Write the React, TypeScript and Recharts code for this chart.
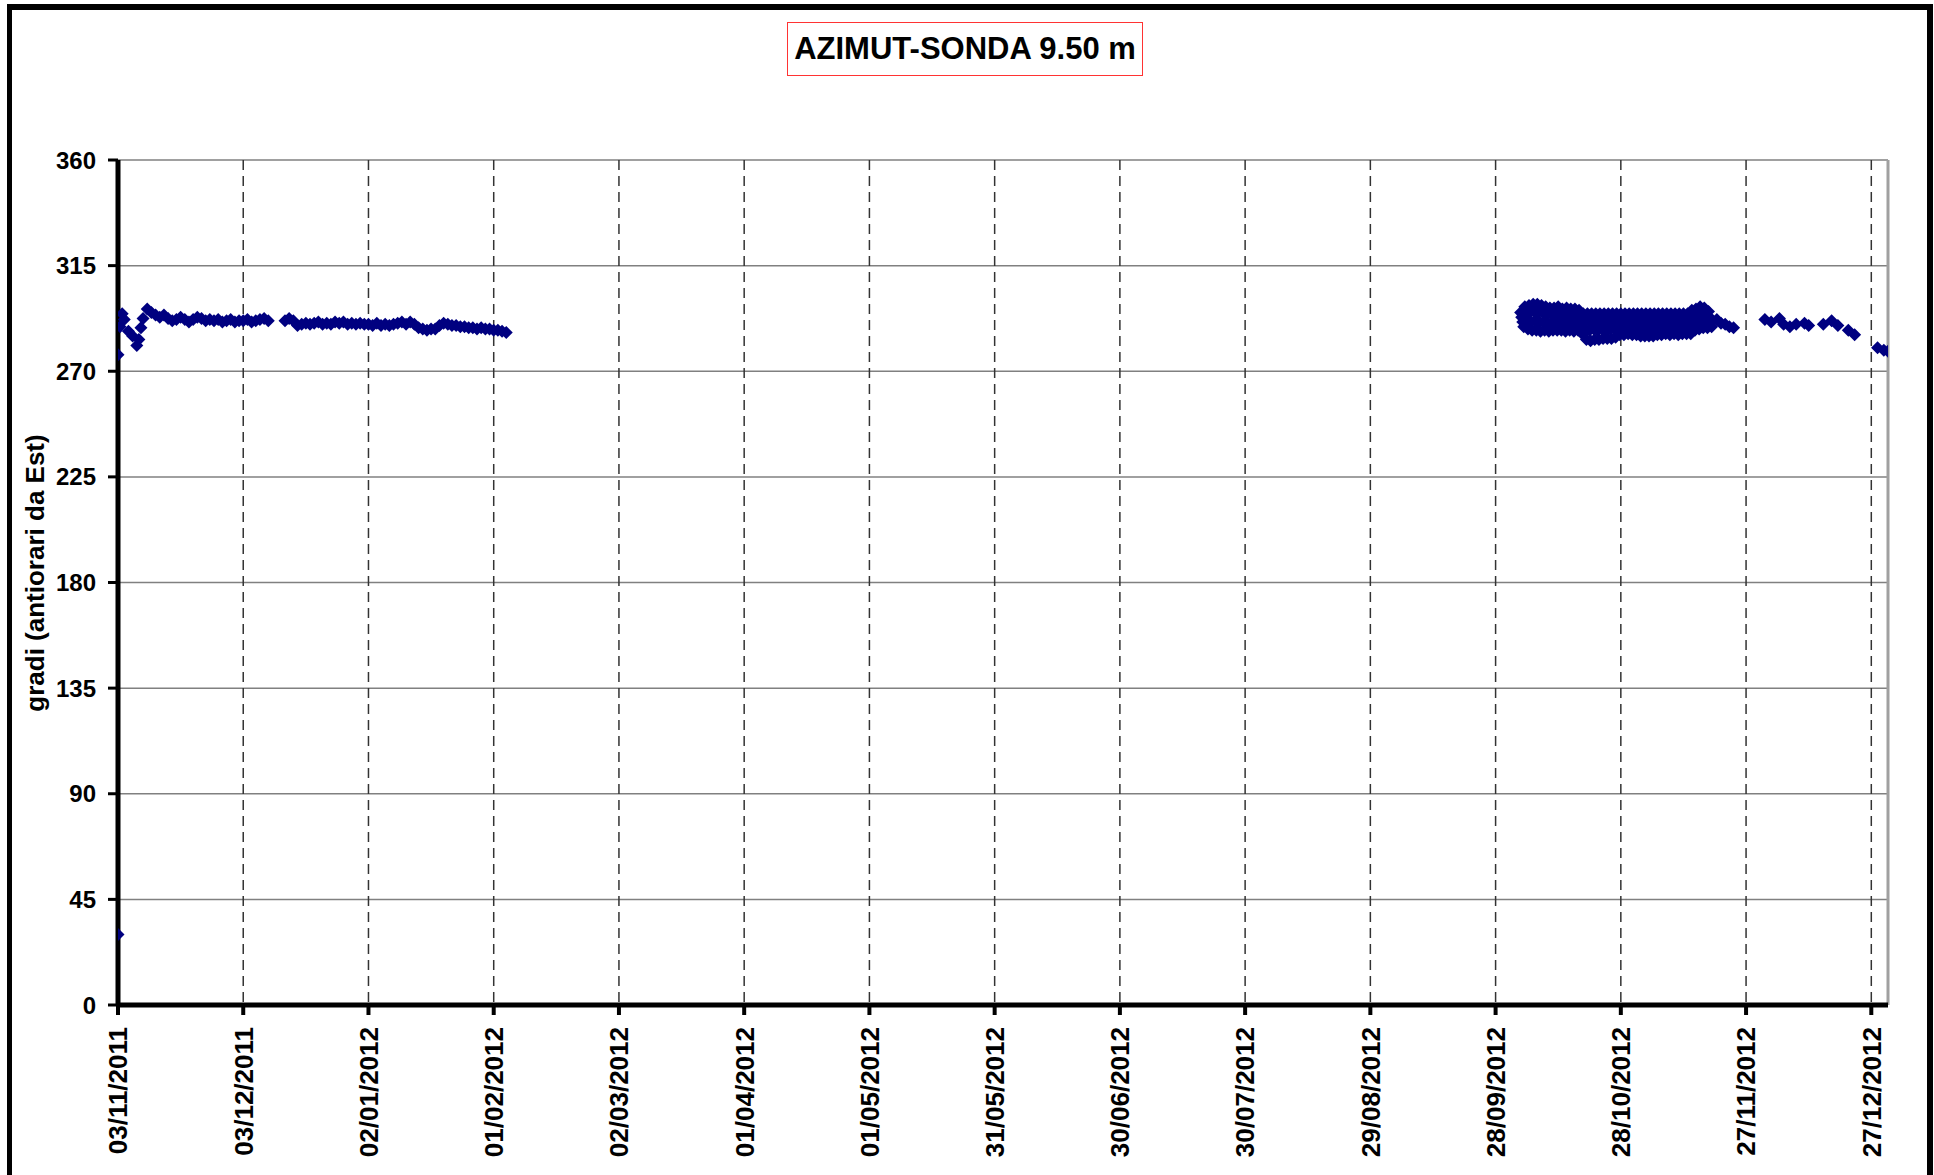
import { ScatterChart, Scatter, XAxis, YAxis, CartesianGrid, ReferenceLine } from 'recharts'

const FONT = '"Liberation Sans", Arial, sans-serif'

// day 0 = 03/11/2011
const tickDays = [0, 30, 60, 90, 120, 150, 180, 210, 240, 270, 300, 330, 360, 390, 420]
const tickLabels = [
  '03/11/2011', '03/12/2011', '02/01/2012', '01/02/2012', '02/03/2012',
  '01/04/2012', '01/05/2012', '31/05/2012', '30/06/2012', '30/07/2012',
  '29/08/2012', '28/09/2012', '28/10/2012', '27/11/2012', '27/12/2012'
]
const yTicks = [0, 45, 90, 135, 180, 225, 270, 315, 360]

// first campaign (Nov 2011 - Feb 2012)
const leftDays = [
  0, 0, 0.5, 1, 1.5, 2.5, 3.5, 4.5, 5, 5.5, 6, 7,
  8, 9, 10, 11, 12, 13, 14, 15, 16, 17, 18, 19, 20, 21, 22, 23, 24, 25, 26, 27, 28, 29, 30, 31, 32, 33, 34, 35, 36,
  40, 41, 42, 43, 44, 45, 46, 47, 48, 49, 50, 51, 52, 53, 54, 55, 56, 57, 58, 59, 60, 61, 62, 63, 64, 65, 66,
  67, 68, 69, 70, 71, 72, 73, 74, 75, 76, 77, 78, 79, 80, 81, 82, 83, 84, 85, 86, 87, 88, 89, 90, 91, 92, 93
]
const leftAzimuth = [
  30, 277, 289, 294.5, 292, 287, 285, 281, 283.5, 288.5, 292.5, 296.5,
  295, 294, 293, 294, 292.5, 291.5, 292, 293, 292, 291, 292, 293, 292.5, 291.5, 292, 291.5, 292, 291, 291.5, 292, 291, 291.5, 291.5, 292, 291, 291.5, 292, 292.5, 291.5,
  291.5, 292.5, 291.5, 289.5, 290, 290.5, 290, 290.5, 291, 290, 290.5, 290, 291, 290.5, 291, 290, 290.5, 290, 290.5, 290, 290, 289.5, 290.5, 289.5, 290, 289.5, 290,
  290.5, 291, 290, 291, 290, 288.5, 288, 287.5, 288, 288, 289.5, 290.5, 290, 289.5, 289.5, 289, 289, 288.5, 288.5, 288, 288.5, 288, 288, 287.5, 287.5, 287, 286.5
]

// second campaign, dense readings: days 336..381, four readings a day
const blobDays = [
  336, 337, 338, 339, 340, 341, 342, 343, 344, 345, 346, 347, 348, 349, 350,
  351, 352, 353, 354, 355, 356, 357, 358, 359, 360, 361, 362, 363, 364, 365, 366, 367, 368, 369, 370,
  371, 372, 373, 374, 375, 376, 377, 378, 379, 380, 381
]
const blobHigh = [
  295, 297.5, 298, 298.5, 298.5, 298, 297.5, 297, 297, 297.5, 296.5, 297, 296.5, 296.5, 296,
  294.5, 294.5, 294.5, 294.5, 294.5, 294.5, 294.5, 294.5, 294.5, 294.5, 294.5, 294.5, 294.5, 294.5, 294.5, 294.5, 294.5, 294.5, 294.5, 294.5,
  294.5, 294.5, 294.5, 294.5, 294.5, 294.5, 296, 296.5, 297.5, 297, 295.5
]
const blobUpper = [
  293, 295, 295, 295.5, 295, 295, 294.5, 294.5, 294, 294.5, 294, 294, 293.5, 294, 293,
  291, 291.5, 291, 291.5, 291, 291.5, 291, 291.5, 291, 291.5, 291, 291.5, 291, 291.5, 291, 291.5, 291, 291.5, 291, 291.5,
  291, 291.5, 291, 291.5, 291, 291.5, 293, 293.5, 294, 294, 293
]
const blobLower = [
  291, 291.5, 291, 291.5, 291, 291, 290.5, 291, 290.5, 291, 290.5, 290.5, 290, 290.5, 289.5,
  287.5, 287.5, 288, 287.5, 288, 287.5, 288, 288, 288.5, 288, 288.5, 288, 288.5, 288, 288, 288.5, 288, 288.5, 288, 288.5,
  288.5, 288, 288.5, 288.5, 288, 288.5, 290, 290.5, 291, 291, 291
]
const blobLow = [
  289, 288, 287.5, 287.5, 287, 287.5, 287, 287.5, 287.5, 287.5, 287, 287.5, 287, 287.5, 286,
  283.5, 283, 283.5, 283.5, 284, 284, 284, 284.5, 285.5, 285.5, 286, 285.5, 285.5, 285, 285, 285, 285, 285.5, 285.5, 286,
  285.5, 286, 285.5, 286, 286, 286, 287.5, 288, 288.5, 288.5, 289
]

// sparse readings after the dense block
const rightDays = [382, 383, 384, 385, 386, 387, 394.5, 396, 398, 399, 400.5, 402, 404, 405, 408.5, 410.5, 412, 414.5, 416, 421.5, 423, 424]
const rightAzimuth = [291.5, 292, 290.5, 290, 289, 288.5, 292, 291, 292.5, 290, 289, 290, 290.5, 289.5, 290, 291.5, 289.5, 287.5, 285.5, 280, 279, 278.5]

const toPoints = (days: number[], values: number[]) => days.map((d, i) => ({ day: d, az: values[i] }))

const leftData = toPoints(leftDays, leftAzimuth)
const blobData = [
  ...toPoints(blobDays, blobHigh),
  ...toPoints(blobDays.map(d => d + 0.25), blobUpper),
  ...toPoints(blobDays.map(d => d + 0.5), blobLower),
  ...toPoints(blobDays.map(d => d + 0.75), blobLow)
]
const rightData = toPoints(rightDays, rightAzimuth)

const Diamond = (props: any) => {
  const { cx, cy } = props
  if (cx == null || cy == null) return null
  const r = 6.5
  return <path d={`M${cx},${cy - r}L${cx + r},${cy}L${cx},${cy + r}L${cx - r},${cy}Z`} fill="#000080" />
}

const DateTick = ({ x, y, payload }: any) => {
  const i = tickDays.indexOf(payload.value)
  return (
    <text
      x={x}
      y={y}
      transform={`rotate(-90, ${x}, ${y})`}
      textAnchor="end"
      dy="0.36em"
      fontSize={26}
      fontWeight="bold"
      fontFamily={FONT}
      fill="#000"
    >
      {tickLabels[i]}
    </text>
  )
}

export default function App() {
  return (
    <div style={{ position: 'absolute', left: 0, top: 0, width: 1934, height: 1175, background: '#fff', overflow: 'hidden', fontFamily: FONT }}>
      {/* outer frame, bottom edge is cut off */}
      <div style={{
        position: 'absolute', left: 7, top: 4, width: 1926, height: 1300, boxSizing: 'border-box',
        borderTop: '6px solid #000', borderLeft: '5px solid #000', borderRight: '6px solid #000'
      }} />
      <div style={{
        position: 'absolute', left: 787, top: 22, width: 356, height: 54, boxSizing: 'border-box',
        border: '1.5px solid #f33', display: 'flex', alignItems: 'center', justifyContent: 'center',
        fontSize: 31, fontWeight: 'bold', color: '#000', whiteSpace: 'nowrap'
      }}>
        AZIMUT-SONDA 9.50 m
      </div>
      <div style={{
        position: 'absolute', left: 35, top: 573, transform: 'translate(-50%, -50%) rotate(-90deg)',
        fontSize: 26, fontWeight: 'bold', color: '#000', whiteSpace: 'nowrap'
      }}>
        gradi (antiorari da Est)
      </div>
      <div style={{ position: 'absolute', left: 0, top: 0 }}>
        <ScatterChart width={1934} height={1175} margin={{ top: 160, right: 46, bottom: 20, left: 0 }}>
          <CartesianGrid vertical={false} stroke="#808080" strokeWidth={1.5} />
          <CartesianGrid horizontal={false} stroke="#333" strokeWidth={1.5} strokeDasharray="10 6" />
          <ReferenceLine x={424} stroke="#a0a0a0" strokeWidth={3} />
          <XAxis
            dataKey="day"
            type="number"
            domain={[0, 424]}
            ticks={tickDays}
            interval={0}
            height={150}
            tick={<DateTick />}
            tickSize={10}
            tickMargin={12}
            tickLine={{ stroke: '#000', strokeWidth: 4 }}
            axisLine={{ stroke: '#000', strokeWidth: 5 }}
            allowDataOverflow
          />
          <YAxis
            dataKey="az"
            type="number"
            domain={[0, 360]}
            ticks={yTicks}
            interval={0}
            width={118}
            tick={{ fill: '#000', fontSize: 24, fontWeight: 'bold', fontFamily: FONT }}
            tickSize={10}
            tickMargin={12}
            tickLine={{ stroke: '#000', strokeWidth: 3 }}
            axisLine={{ stroke: '#000', strokeWidth: 5 }}
          />
          <Scatter data={leftData} shape={<Diamond />} isAnimationActive={false} />
          <Scatter data={blobData} shape={<Diamond />} isAnimationActive={false} />
          <Scatter data={rightData} shape={<Diamond />} isAnimationActive={false} />
        </ScatterChart>
      </div>
    </div>
  )
}
